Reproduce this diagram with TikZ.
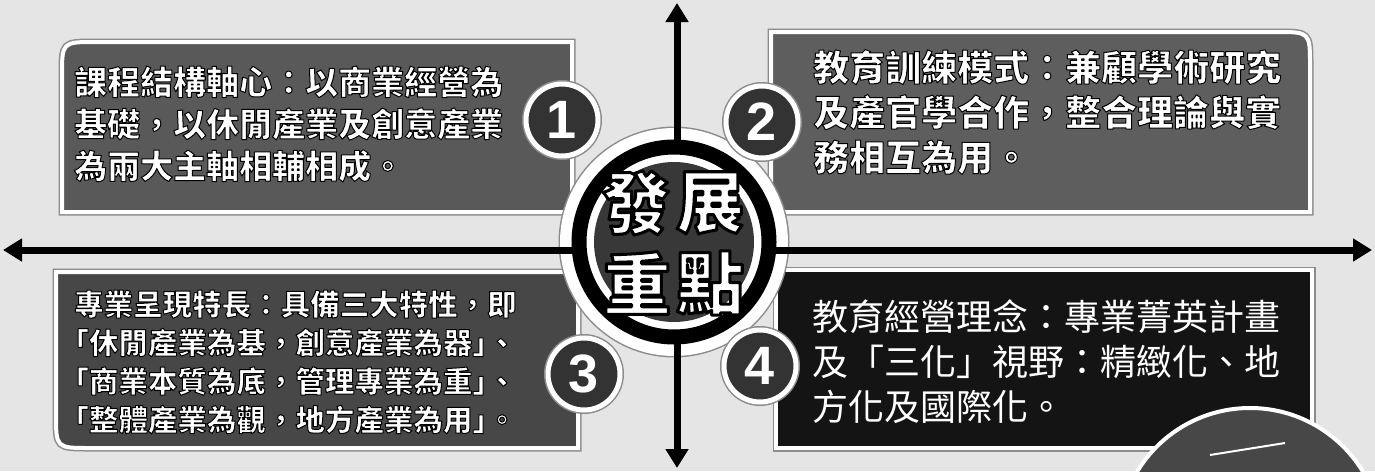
\documentclass[tikz,border=0pt]{standalone}
\usepackage{fontspec}
\usepackage{tikz}
\usetikzlibrary{
	arrows.meta
}
\newfontfamily\cjk{Noto Sans CJK TC}
\newfontfamily\numfont{Liberation Sans}
% 描邊字（不重複排字）
\newcommand{\strokeon}[1]{\special{pdf:literal direct 0 G #1 w 1 j 2 Tr}}
\newcommand{\strokeoff}{\special{pdf:literal direct 0 Tr}}

\begin{document}
\begin{tikzpicture}[
	x=1pt, y=-1pt,
	panel/.style={fill=#1, draw=white, line width=4pt, preaction={draw=black!45, line width=7pt}},
	numdot/.style={circle, fill=black!80, draw=white, line width=5pt, minimum size=72pt, inner sep=0pt, text=white, font=\numfont\bfseries\fontsize{54}{54}\selectfont, preaction={draw=black!45, line width=8pt}},
	axis/.style={line width=7pt, >={Triangle[width=22pt,length=19pt]}, <->},
	hollowtext/.style={anchor=west, align=left, inner sep=0pt, text=white},
	bigchar/.style={inner sep=0pt, text=white, font=\cjk\bfseries\fontsize{68}{68}\selectfont}
]
	\useasboundingbox (0,0) rectangle (1375,471);
	% 底色
	\fill[black!10] (0,0) rectangle (1375,471);

	% 四個區塊
	\path[panel=black!65] (62,212) -- (62,76) .. controls (62,42) .. (96,42) -- (572,42) -- (572,212) -- cycle;
	\path[panel=black!63] (771,32) -- (1276,32) .. controls (1310,32) .. (1310,66) -- (1310,212) -- (771,212) -- cycle;
	\path[panel=black!72] (56,272) -- (578,272) -- (578,448) -- (90,448) .. controls (56,448) .. (56,414) -- cycle;
	\path[panel=black!92] (776,270) -- (1312,270) -- (1312,448) -- (776,448) -- cycle;

	% 中心白邊
	\path[panel=white] (674,242) circle[radius=112pt];

	% 座標軸
	\coordinate (topend)    at (677,3);
	\coordinate (bottomend) at (677,468);
	\coordinate (leftend)   at (3,250);
	\coordinate (rightend)  at (1372,250);
	\draw[axis] (topend) -- (bottomend);
	\draw[axis] (leftend) -- (rightend);

	% 中心圓
	\fill[white] (674,242) circle[radius=102pt];
	\draw[line width=15pt] (674,242) circle[radius=95pt];
	\fill[black!78] (674,242) circle[radius=80pt];
	\node[bigchar] (fa)    at (636,203) {\strokeon{3}發\strokeoff};
	\node[bigchar] (zhan)  at (710,203) {\strokeon{3}展\strokeoff};
	\node[bigchar] (zhong) at (637,283) {\strokeon{3}重\strokeoff};
	\node[bigchar] (dian)  at (710,283) {\strokeon{3}點\strokeoff};

	% 編號
	\node[numdot] (num1) at (562,120) {1};
	\node[numdot] (num2) at (762,122) {2};
	\node[numdot] (num3) at (584,374) {3};
	\node[numdot] (num4) at (760,366) {4};

	% 文字
	\node[hollowtext, font=\cjk\bfseries\fontsize{33}{42}\selectfont] (text1) at (74,124)
		{\strokeon{1}課程結構軸心：以商業經營為\\基礎，以休閒產業及創意產業\\為兩大主軸相輔相成。\strokeoff};
	\node[hollowtext, font=\cjk\bfseries\fontsize{36}{45}\selectfont] (text2) at (813,112)
		{\strokeon{1}教育訓練模式：兼顧學術研究\\及產官學合作，整合理論與實\\務相互為用。\strokeoff};
	\node[hollowtext, font=\cjk\bfseries\fontsize{29.5}{38.5}\selectfont] (text3) at (74,362)
		{\strokeon{1}專業呈現特長：具備三大特性，即\\
		 \hspace*{-.5em}「休閒產業為基，創意產業為器」\hspace{-.5em}、\\
		 \hspace*{-.5em}「商業本質為底，管理專業為重」\hspace{-.5em}、\\
		 \hspace*{-.5em}「整體產業為觀，地方產業為用」\hspace{-.5em}。\strokeoff};
	\node[hollowtext, font=\cjk\fontsize{36}{45}\selectfont] (text4) at (812,362)
		{教育經營理念：專業菁英計畫\\及「三化」視野：精緻化、地\\方化及國際化。};

	% 右下角圓球
	\begin{scope}
		\clip (0,0) rectangle (1375,471);
		\draw[white, line width=4pt, fill=black!72] (1250,540) circle[radius=132pt];
		\draw[white, line width=2pt] (1210,455) -- (1285,443);
	\end{scope}
\end{tikzpicture}
\end{document}
